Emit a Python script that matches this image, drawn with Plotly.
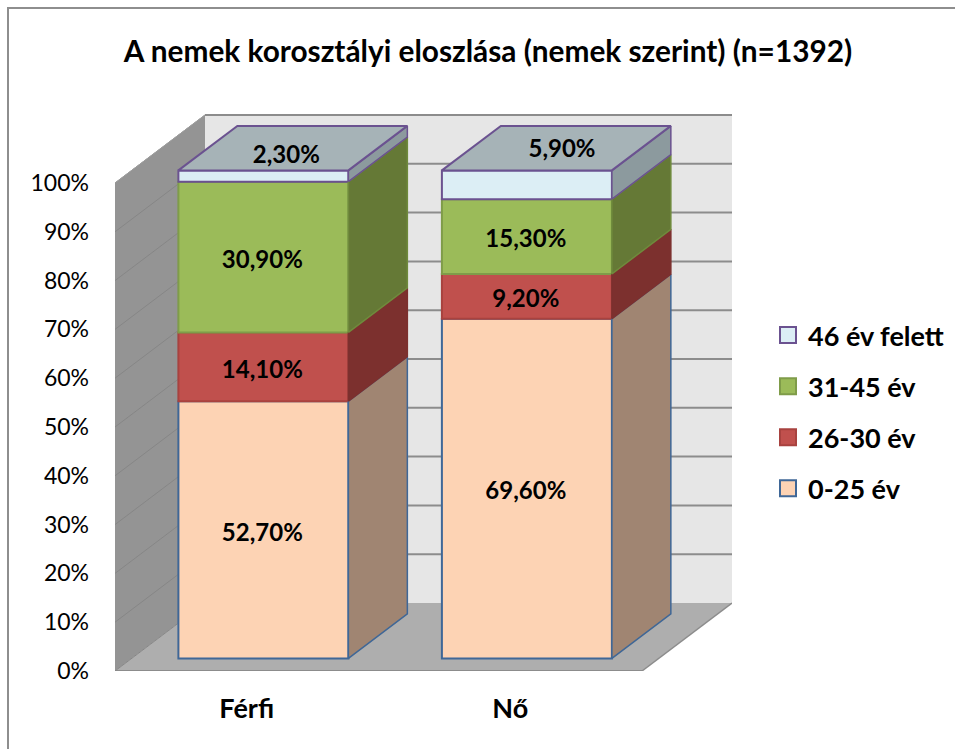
import plotly.graph_objects as go

TITLE = "A nemek korosztályi eloszlása (nemek szerint) (n=1392)"
categories = ["Férfi", "Nő"]
series_names = ["0-25 év", "26-30 év", "31-45 év", "46 év felett"]
v_0_25 = [52.7, 69.6]
v_26_30 = [14.1, 9.2]
v_31_45 = [30.9, 15.3]
v_46 = [2.3, 5.9]
y_ticks = list(range(0, 101, 10))

series = [v_0_25, v_26_30, v_31_45, v_46]
front = ["#FDD3B4", "#C0504D", "#9BBB59", "#DCEEF5"]
side = ["#A08572", "#7C302E", "#657936", "#8C9A9E"]
edge = ["#3F6797", "#A8423F", "#7F9C49", "#6B5290"]
side_edge = ["#3F6797", "#7C302E", "#6F8A3C", "#6B5290"]
TOP = "#A6B3B7"
FONT = "Lato"

# plot-area frame
W, H = 955, 749
L, R, T, B = 115, 732, 114, 671
PX_X = 263.5  # px per category
PX_Y = 4.88   # px per percent
DX = 90 / PX_X  # oblique depth in data units
DY = 68 / PX_Y
D0, D1 = 0.185, 0.84
BAR_W = 170 / PX_X
x_rng = [-0.5, -0.5 + (R - L) / PX_X]
y_rng = [0, (B - T) / PX_Y]


def P(x, y, d):
    return x + d * DX, y + d * DY


def poly(pts, fill, line, lw=1.5):
    xs, ys = zip(*(pts + pts[:1]))
    return go.Scatter(x=xs, y=ys, mode="lines", fill="toself", fillcolor=fill,
                      line=dict(color=line, width=lw), showlegend=False,
                      hoverinfo="skip")


fig = go.Figure()
shapes = []


def wall(pts, fill):
    path = "M " + " L ".join(f"{a},{b}" for a, b in pts) + " Z"
    shapes.append(dict(type="path", path=path, fillcolor=fill, line=dict(width=0),
                       layer="below", xref="x", yref="y"))


def seg(a, b, color, w):
    shapes.append(dict(type="line", x0=a[0], y0=a[1], x1=b[0], y1=b[1], layer="below",
                       xref="x", yref="y", line=dict(color=color, width=w)))


xa, xb = -0.5, 1.5
wall([P(xa, 0, 1), P(xb, 0, 1), P(xb, 100, 1), P(xa, 100, 1)], "#E6E6E6")
wall([P(xa, 0, 0), P(xa, 0, 1), P(xa, 100, 1), P(xa, 100, 0)], "#949494")
wall([P(xa, 0, 0), P(xb, 0, 0), P(xb, 0, 1), P(xa, 0, 1)], "#AEAEAE")
for t in y_ticks:
    if t > 0:
        seg(P(xa, t, 1), P(xb, t, 1), "#8C8C8C", 2)
        seg(P(xa, t, 0), P(xa, t, 1), "#868686", 1)
seg(P(xa, 0, 0), P(xb, 0, 0), "#8C8C8C", 2)
seg(P(xb, 0, 0), P(xb, 0, 1), "#8C8C8C", 1.5)
seg(P(xa, 0, 0), P(xa, 0, 1), "#868686", 1)
seg(P(xa, 100, 0), P(xa, 100, 1), "#A0A0A0", 1)

# chart-area border (open on the right and bottom, runs off the page)
bx0, by0 = 8, 8
shapes.append(dict(type="rect", xref="paper", yref="paper",
                   x0=(bx0 - L) / (R - L), x1=(W + 20 - L) / (R - L),
                   y0=(B - (H + 20)) / (B - T), y1=(B - by0) / (B - T),
                   line=dict(color="#8E8E8E", width=2), fillcolor="rgba(0,0,0,0)",
                   layer="below"))

# legend entries, top entry first
for i in reversed(range(len(series_names))):
    n = series_names[i]
    fig.add_trace(go.Scatter(
        x=[None], y=[None], mode="markers", name=n, legendgroup=n,
        marker=dict(symbol="square", size=16, color=front[i],
                    line=dict(color=edge[i], width=2)),
        hoverinfo="skip"))

# front faces
cum = [0.0 for _ in categories]
for i, vals in enumerate(series):
    fig.add_trace(go.Bar(
        x=[c + D0 * DX for c in range(len(categories))],
        y=vals,
        base=[b + D0 * DY for b in cum],
        width=BAR_W,
        marker=dict(color=front[i], line=dict(color=edge[i], width=2)),
        showlegend=False, name=series_names[i], legendgroup=series_names[i],
        hoverinfo="skip"))
    cum = [b + v for b, v in zip(cum, vals)]

# side and top faces
cum = [0.0 for _ in categories]
for i, vals in enumerate(series):
    for c, v in enumerate(vals):
        xr = c + BAR_W / 2
        fig.add_trace(poly([P(xr, cum[c], D0), P(xr, cum[c], D1),
                            P(xr, cum[c] + v, D1), P(xr, cum[c] + v, D0)],
                           side[i], side_edge[i]))
        if i == len(series) - 1:
            xl = c - BAR_W / 2
            fig.add_trace(poly([P(xl, cum[c] + v, D0), P(xr, cum[c] + v, D0),
                                P(xr, cum[c] + v, D1), P(xl, cum[c] + v, D1)],
                               TOP, edge[i], 2))
    cum = [b + v for b, v in zip(cum, vals)]

# data labels
label_dx = [0.255, 0.39]  # top-series labels sit on the top face
label_dy = [0.20, 0.28]
LABEL_NUDGE = -1.0  # percent; text sits a little below the segment's middle
cum = [0.0 for _ in categories]
for i, vals in enumerate(series):
    xs, ys, txt = [], [], []
    for c, v in enumerate(vals):
        if i == len(series) - 1:
            xs.append(c + (D0 + label_dx[c]) * DX)
            ys.append(cum[c] + v + (D0 + label_dy[c]) * DY)
        else:
            xs.append(c + D0 * DX - 0.004)
            ys.append(cum[c] + v / 2 + D0 * DY + LABEL_NUDGE)
        txt.append(f"{v:.2f}%".replace(".", ","))
    fig.add_trace(go.Scatter(x=xs, y=ys, text=txt, mode="text", textposition="middle center",
                             textfont=dict(family=FONT, size=24, color="black", weight="bold"),
                             showlegend=False, hoverinfo="skip"))
    cum = [b + v for b, v in zip(cum, vals)]

fig.update_layout(
    width=W, height=H, autosize=False,
    margin=dict(l=L, r=W - R, t=T, b=H - B, pad=0),
    paper_bgcolor="white", plot_bgcolor="rgba(0,0,0,0)",
    barmode="overlay", shapes=shapes,
    title=dict(text=TITLE, x=488 / W, xanchor="center", xref="container",
               y=1 - 52 / H, yanchor="middle",
               font=dict(family=FONT, size=29.8, color="black", weight="bold")),
    xaxis=dict(range=x_rng, tickmode="array", tickvals=list(range(len(categories))),
               ticktext=categories, showgrid=False, zeroline=False, showline=False,
               ticks="", ticklabelstandoff=19,
               tickfont=dict(family=FONT, size=27, color="black", weight="bold")),
    yaxis=dict(range=y_rng, tickmode="array", tickvals=y_ticks,
               ticktext=[f"{t}%" for t in y_ticks], showgrid=False, zeroline=False,
               showline=False, ticks="", ticklabelstandoff=25,
               tickfont=dict(family=FONT, size=23, color="black")),
    legend=dict(x=768 / W, xref="container", y=1 - 311 / H, yref="container",
                xanchor="left", yanchor="top", traceorder="grouped",
                tracegroupgap=13, itemsizing="trace", bgcolor="rgba(0,0,0,0)",
                font=dict(family=FONT, size=27, color="black", weight="bold")),
)
fig.write_html("out.html", config={"displayModeBar": False},
               post_script="document.body.style.margin='0';")
